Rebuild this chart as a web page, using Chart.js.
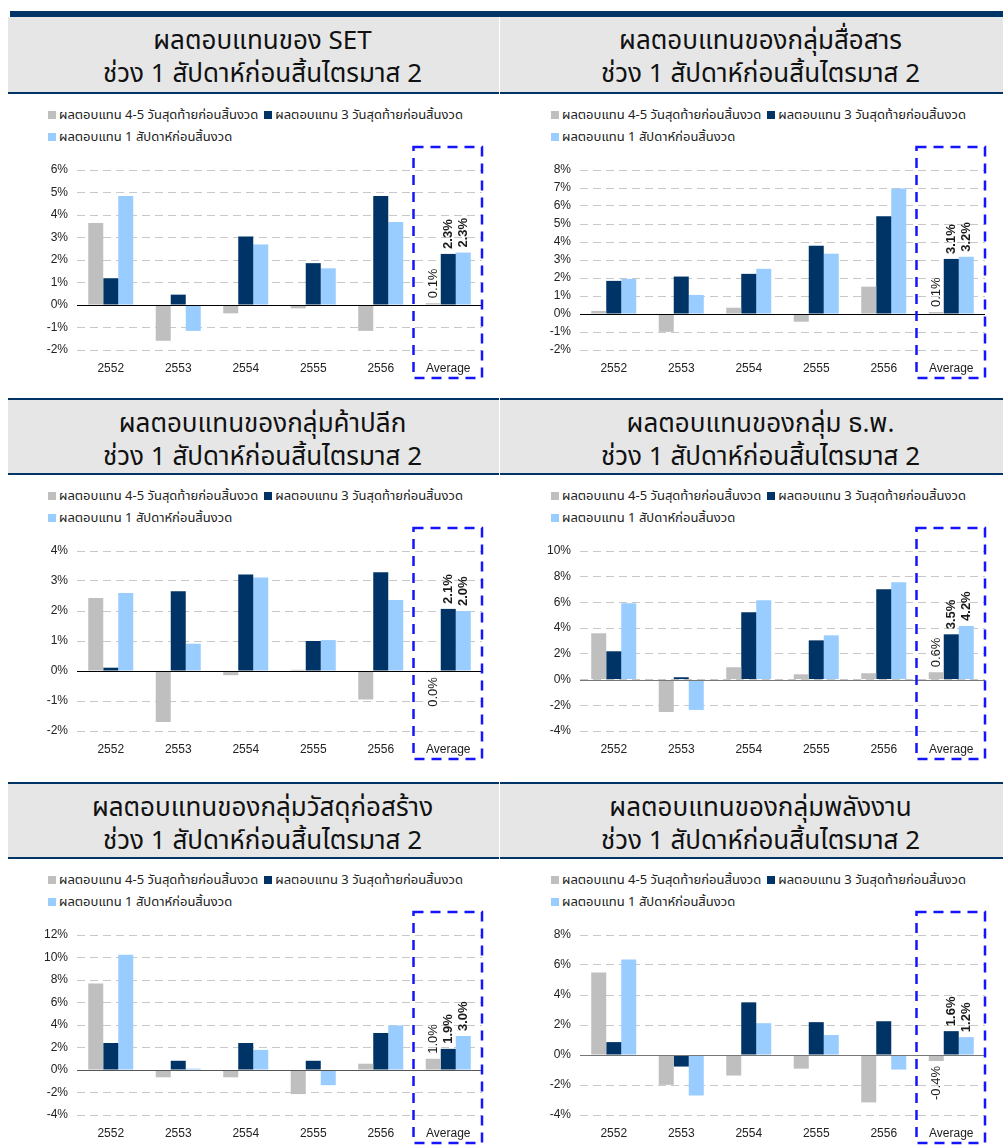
<!DOCTYPE html>
<html>
<head>
<meta charset="utf-8">
<script src="https://cdn.jsdelivr.net/npm/chart.js@4.4.0/dist/chart.umd.min.js"></script>
<style>
body { margin:0; background:#fff; width:1003px; height:1148px; position:relative; overflow:hidden; font-family:"Liberation Sans", Arial, sans-serif; }
#topbar { position:absolute; left:10px; top:11px; width:993px; height:6px; background:#003366; }
.title { position:absolute; height:77px; background:#e6e6e6; border-bottom:2px solid #003366; box-sizing:border-box;
  text-align:center; color:#111; font-family:"Noto Sans Thai","Noto Sans","DejaVu Sans",sans-serif; font-size:26px; line-height:33px; padding:8px 0 0 18px; }
.title.top2 { border-top:2px solid #003366; }
.legend { position:absolute; width:450px; font-family:"Noto Sans Thai","Liberation Sans","DejaVu Sans",sans-serif; font-size:13px; line-height:22px; color:#222; }
.legend span.item { display:inline-block; margin-right:6px; white-space:nowrap; }
.legend i { display:inline-block; width:8px; height:8px; margin-right:3px; vertical-align:0px; }
.box { position:absolute; width:495px; height:240px; }
</style>
</head>
<body>
<div id="topbar"></div>
<script>
var categories = ['2552', '2553', '2554', '2555', '2556', 'Average'];
var seriesNames = ['ผลตอบแทน 4-5 วันสุดท้ายก่อนสิ้นงวด', 'ผลตอบแทน 3 วันสุดท้ายก่อนสิ้นงวด', 'ผลตอบแทน 1 สัปดาห์ก่อนสิ้นงวด'];
var subTitle = 'ช่วง 1 สัปดาห์ก่อนสิ้นไตรมาส 2';

// SET
var setDays45 = [3.65, -1.59, -0.37, -0.15, -1.15, 0.08];
var setDays3  = [1.19, 0.46, 3.05, 1.86, 4.85, 2.27];
var setWeek1  = [4.85, -1.15, 2.69, 1.63, 3.69, 2.33];
// สื่อสาร
var commDays45 = [0.17, -0.99, 0.35, -0.43, 1.52, 0.11];
var commDays3  = [1.84, 2.08, 2.23, 3.79, 5.43, 3.06];
var commWeek1  = [1.95, 1.06, 2.51, 3.35, 6.97, 3.18];
// ค้าปลีก
var retailDays45 = [2.43, -1.70, -0.14, 0.04, -0.95, -0.04];
var retailDays3  = [0.11, 2.66, 3.22, 1.00, 3.29, 2.07];
var retailWeek1  = [2.60, 0.91, 3.12, 1.03, 2.37, 2.00];
// ธ.พ.
var bankDays45 = [3.60, -2.52, 0.96, 0.41, 0.49, 0.57];
var bankDays3  = [2.20, 0.18, 5.23, 3.05, 7.02, 3.52];
var bankWeek1  = [5.93, -2.36, 6.17, 3.44, 7.57, 4.17];
// วัสดุก่อสร้าง
var consDays45 = [7.69, -0.65, -0.65, -2.14, 0.56, 1.00];
var consDays3  = [2.40, 0.82, 2.40, 0.82, 3.29, 1.88];
var consWeek1  = [10.25, 0.12, 1.79, -1.35, 3.96, 3.02];
// พลังงาน
var enerDays45 = [5.50, -1.99, -1.37, -0.91, -3.16, -0.40];
var enerDays3  = [0.86, -0.77, 3.51, 2.19, 2.25, 1.59];
var enerWeek1  = [6.37, -2.70, 2.12, 1.33, -0.97, 1.19];

var colors = ['#bfbfbf', '#003366', '#99ccff'];

var panels = [
  {title:'ผลตอบแทนของ SET', d:[setDays45, setDays3, setWeek1], min:-2, max:6, step:1, x:0, t:17, zero:'#000'},
  {title:'ผลตอบแทนของกลุ่มสื่อสาร', d:[commDays45, commDays3, commWeek1], min:-2, max:8, step:1, x:503, t:17, zero:'#000'},
  {title:'ผลตอบแทนของกลุ่มค้าปลีก', d:[retailDays45, retailDays3, retailWeek1], min:-2, max:4, step:1, x:0, t:398, zero:'#000'},
  {title:'ผลตอบแทนของกลุ่ม ธ.พ.', d:[bankDays45, bankDays3, bankWeek1], min:-4, max:10, step:2, x:503, t:398, zero:'#777'},
  {title:'ผลตอบแทนของกลุ่มวัสดุก่อสร้าง', d:[consDays45, consDays3, consWeek1], min:-4, max:12, step:2, x:0, t:782, zero:'#555'},
  {title:'ผลตอบแทนของกลุ่มพลังงาน', d:[enerDays45, enerDays3, enerWeek1], min:-4, max:8, step:2, x:503, t:782, zero:'#777'}
];

// zero line, dashed box round "Average" and the rotated labels
var avgPlugin = {
  id: 'avgBox',
  afterDatasetsDraw: function(chart, args, opts) {
    var ctx = chart.ctx, a = chart.chartArea, xs = chart.scales.x, ys = chart.scales.y;
    ctx.save();
    var y0 = Math.round(ys.getPixelForValue(0)) + 0.5;
    ctx.strokeStyle = opts.zero; ctx.lineWidth = 1;
    ctx.beginPath(); ctx.moveTo(a.left, y0); ctx.lineTo(a.right, y0); ctx.stroke();

    var idx = chart.data.labels.length - 1;
    chart.data.datasets.forEach(function(ds, di) {
      var bar = chart.getDatasetMeta(di).data[idx];
      var v = ds.data[idx];
      var s = v.toFixed(1); if (s === '-0.0') s = '0.0';
      s += '%';
      ctx.save();
      ctx.translate(bar.x, bar.y);
      ctx.rotate(-Math.PI / 2);
      ctx.font = (di === 0 ? '' : 'bold ') + '13px "Liberation Sans", Arial, sans-serif';
      ctx.fillStyle = '#1a1a1a';
      ctx.textBaseline = 'middle';
      if (v >= 0) { ctx.textAlign = 'left'; ctx.fillText(s, 5, 0); }
      else { ctx.textAlign = 'right'; ctx.fillText(s, -5, 0); }
      ctx.restore();
    });

    var cw = xs.getPixelForValue(1) - xs.getPixelForValue(0);
    var left = xs.getPixelForValue(idx) - cw / 2 - 1;
    var top = a.top - 23, bottom = a.bottom + 28;
    ctx.setLineDash([10, 7]);
    ctx.strokeStyle = '#1414ff'; ctx.lineWidth = 2.5;
    ctx.strokeRect(left, top, a.right - left, bottom - top);
    ctx.restore();
  }
};

panels.forEach(function(p, k) {
  var w = p.x === 0 ? 491 : 503;
  var tl = document.createElement('div');
  tl.className = 'title' + (p.t > 17 ? ' top2' : '');
  tl.style.left = (p.x === 0 ? 8 : 500) + 'px';
  tl.style.width = w + 'px';
  tl.style.top = p.t + 'px';
  tl.innerHTML = p.title + '<br>' + subTitle;
  document.body.appendChild(tl);

  var lg = document.createElement('div');
  lg.className = 'legend';
  lg.style.left = (p.x + 48) + 'px';
  lg.style.top = (p.t + 87) + 'px';
  lg.innerHTML = seriesNames.map(function(n, i) {
    return '<span class="item"><i style="background:' + colors[i] + '"></i>' + n + '</span>';
  }).join('');
  document.body.appendChild(lg);

  var box = document.createElement('div');
  box.className = 'box';
  box.style.left = p.x + 'px';
  box.style.top = (p.t + 126) + 'px';
  var cv = document.createElement('canvas');
  cv.width = 495; cv.height = 240;
  box.appendChild(cv);
  document.body.appendChild(box);

  new Chart(cv.getContext('2d'), {
    type: 'bar',
    data: {
      labels: categories,
      datasets: p.d.map(function(arr, i) {
        return { label: seriesNames[i], data: arr, backgroundColor: colors[i], borderWidth: 0 };
      })
    },
    options: {
      responsive: false,
      animation: false,
      layout: { padding: { top: 27, right: 13, left: 0, bottom: 0 } },
      datasets: { bar: { categoryPercentage: 0.667, barPercentage: 1 } },
      plugins: { legend: { display: false }, tooltip: { enabled: false }, avgBox: { zero: p.zero } },
      scales: {
        x: {
          grid: { display: false },
          border: { display: false },
          ticks: { color: '#222', padding: 3, font: { size: 12, family: '"Liberation Sans", Arial, sans-serif' } },
          afterFit: function(s) { s.height = 33; }
        },
        y: {
          min: p.min, max: p.max,
          ticks: { stepSize: p.step, color: '#222', padding: 9,
                   font: { size: 12, family: '"Liberation Sans", Arial, sans-serif' },
                   callback: function(v) { return v + '%'; } },
          grid: { color: '#c8c8c8', drawTicks: false, lineWidth: 1 },
          border: { display: false, dash: [8, 5] },
          afterFit: function(s) { s.width = 77; }
        }
      }
    },
    plugins: [avgPlugin]
  });
});
</script>
</body>
</html>
